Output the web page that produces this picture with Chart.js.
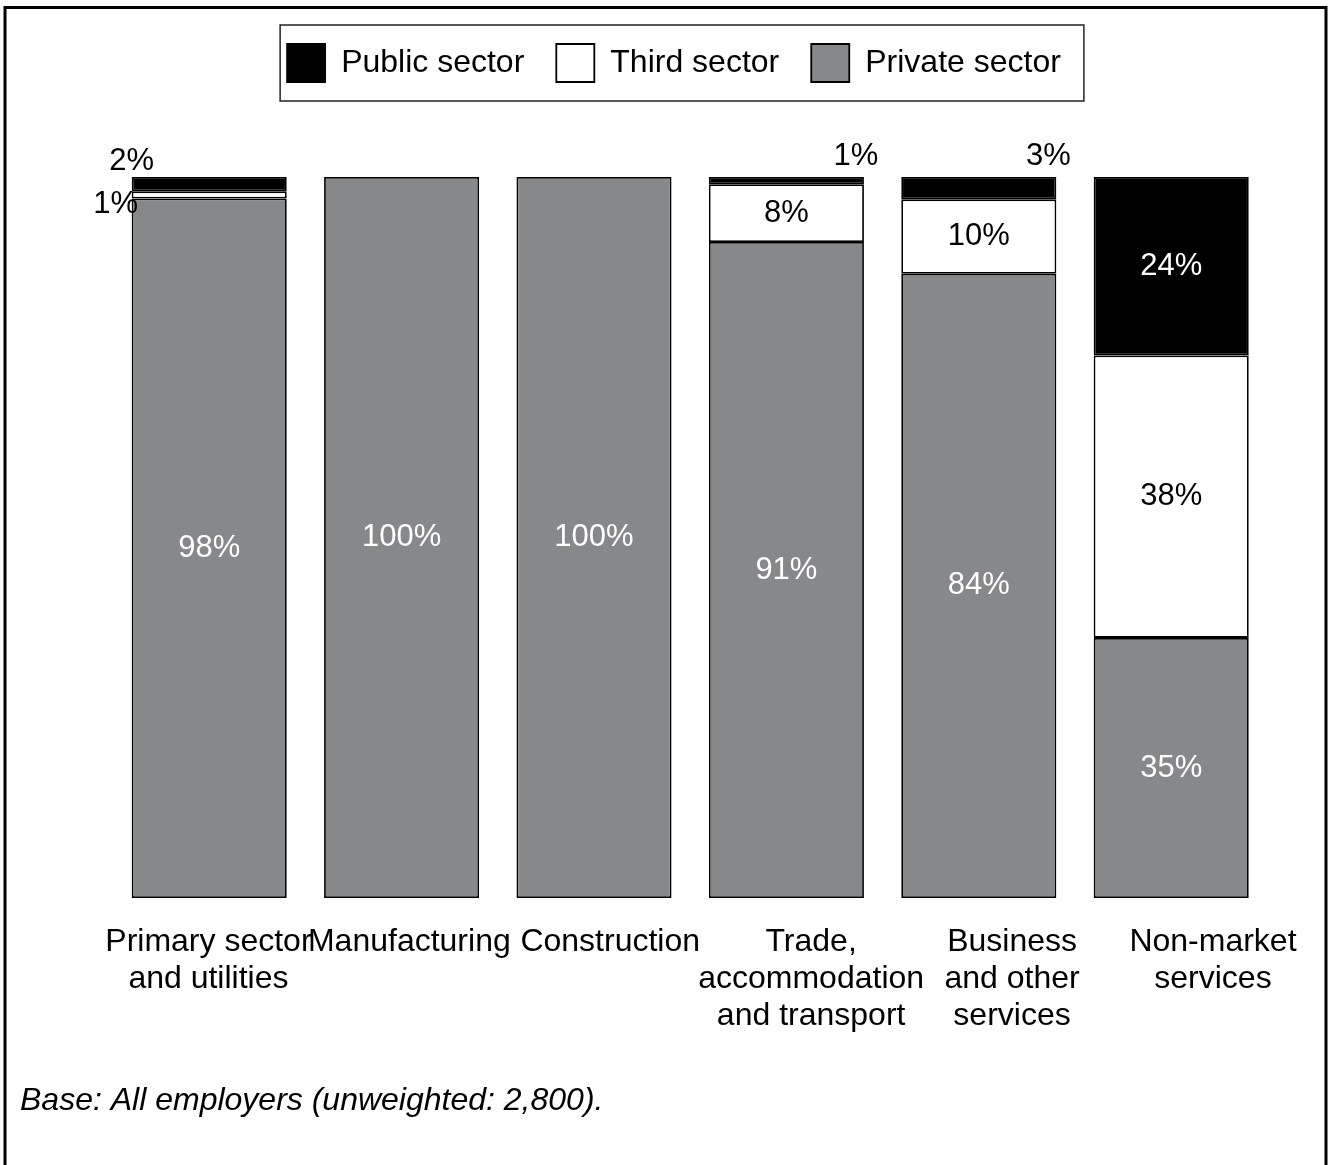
<!DOCTYPE html>
<html>
<head>
<meta charset="utf-8">
<script src="https://cdn.jsdelivr.net/npm/chart.js@4.4.0/dist/chart.umd.min.js"></script>
<style>
  html, body { margin: 0; padding: 0; background: #ffffff; overflow: hidden; }
  #wrap { position: absolute; left: 0; top: 0; width: 1328px; height: 1165px; }
</style>
</head>
<body>
<div id="wrap"><canvas id="chart" width="1328" height="1165"></canvas></div>
<script>
// Employer type by broad sector (% of employers)
const categories = [
  ['Primary sector', 'and utilities'],
  ['Manufacturing'],
  ['Construction'],
  ['Trade,', 'accommodation', 'and transport'],
  ['Business', 'and other', 'services'],
  ['Non-market', 'services']
];
const publicSector  = [2, 0, 0, 1, 3, 24];
const thirdSector   = [1, 0, 0, 8, 10, 38];
const privateSector = [98, 100, 100, 91, 84, 35];
const seriesNames = ['Public sector', 'Third sector', 'Private sector'];
const footnote = 'Base: All employers (unweighted: 2,800).';

const FONT = '"Liberation Sans", Arial, Helvetica, sans-serif';

// Each bar is a 100% stack: shares are scaled by the sum of the rounded percentages
const totals = categories.map((_, i) => publicSector[i] + thirdSector[i] + privateSector[i]);
const share = arr => arr.map((v, i) => v / totals[i] * 100);

// Stacked bottom-to-top: private, third, public
const stackSeries = [
  { name: seriesNames[2], values: privateSector, fill: '#87888a', text: '#ffffff' },
  { name: seriesNames[1], values: thirdSector,   fill: '#ffffff', text: '#000000' },
  { name: seriesNames[0], values: publicSector,  fill: '#000000', text: '#ffffff' }
];

// Category label axis range (linear, so labels can sit a little apart from the bar centres)
const LABEL_AXIS_MIN = -0.475;
const LABEL_AXIS_MAX = 5.271;

// Percentages printed on the bars; thin segments get their label outside the bar
const valueLabels = {
  id: 'valueLabels',
  afterDatasetsDraw(chart) {
    const ctx = chart.ctx;
    ctx.save();
    ctx.font = '31px ' + FONT;
    ctx.textAlign = 'center';
    ctx.textBaseline = 'middle';
    stackSeries.forEach((s, di) => {
      const meta = chart.getDatasetMeta(di);
      meta.data.forEach((bar, i) => {
        const v = s.values[i];
        if (!v) return;
        const left = bar.x - bar.width / 2;
        const right = bar.x + bar.width / 2;
        const top = Math.min(bar.y, bar.base);
        const bottom = Math.max(bar.y, bar.base);
        let x = bar.x, y = (top + bottom) / 2, color = s.text;
        if (v <= 3) {
          color = '#000000';
          if (i === 0) {
            if (s.name === seriesNames[0]) { x = left; y = top - 16; }
            else { x = left - 16; y = (top + bottom) / 2 + 10; }
          } else {
            x = right - 8; y = top - 21;
          }
        }
        ctx.fillStyle = color;
        ctx.fillText(v + '%', x, y);
      });
    });
    ctx.restore();
  }
};

// Outer frame of the figure and the box round the legend
const frames = {
  id: 'frames',
  beforeDraw(chart) {
    const ctx = chart.ctx;
    ctx.save();
    ctx.fillStyle = '#ffffff';
    ctx.fillRect(0, 0, chart.width, chart.height);
    ctx.restore();
  },
  afterDraw(chart) {
    const ctx = chart.ctx;
    ctx.save();
    ctx.strokeStyle = '#000000';
    ctx.lineWidth = 3;
    ctx.strokeRect(5, 7.5, 1321, 1200);
    const hb = chart.legend.legendHitBoxes;
    if (hb && hb.length) {
      const first = hb[0], last = hb[hb.length - 1];
      ctx.lineWidth = 1.5;
      ctx.strokeStyle = '#222222';
      const x0 = first.left - 7, x1 = last.left + last.width + 23;
      const y0 = first.top - 19, y1 = first.top + first.height + 19;
      ctx.strokeRect(x0, y0, x1 - x0, y1 - y0);
    }
    ctx.restore();
  }
};

new Chart(document.getElementById('chart'), {
  type: 'bar',
  data: {
    labels: categories,
    datasets: stackSeries.map(s => ({
      label: s.name,
      data: share(s.values),
      backgroundColor: s.fill,
      borderColor: '#000000',
      borderWidth: 1.8,
      borderSkipped: false,
      barPercentage: 0.806,
      categoryPercentage: 1
    }))
  },
  options: {
    responsive: false,
    animation: false,
    devicePixelRatio: 1,
    layout: { padding: { left: 20, right: 0, top: 12, bottom: 0 } },
    plugins: {
      tooltip: { enabled: false },
      legend: {
        position: 'top',
        align: 'center',
        reverse: true,
        labels: {
          boxWidth: 38,
          boxHeight: 38,
          padding: 32,
          color: '#000000',
          font: { family: FONT, size: 32 }
        }
      },
      subtitle: {
        display: true,
        text: footnote,
        position: 'bottom',
        align: 'start',
        color: '#000000',
        font: { family: FONT, size: 32, style: 'italic', lineHeight: 1.2 },
        padding: { top: 21.6, bottom: 44.8 }
      },
      title: { display: false }
    },
    scales: {
      x: {
        display: false,
        stacked: true
      },
      xl: {
        type: 'linear',
        position: 'bottom',
        offset: false,
        bounds: 'data',
        min: LABEL_AXIS_MIN,
        max: LABEL_AXIS_MAX,
        grid: { display: false, drawTicks: false, offset: false },
        border: { display: false },
        afterBuildTicks(axis) {
          axis.ticks = categories.map((_, i) => ({ value: i }));
          axis.min = LABEL_AXIS_MIN;
          axis.max = LABEL_AXIS_MAX;
        },
        ticks: {
          autoSkip: false,
          maxRotation: 0,
          minRotation: 0,
          padding: 25.4,
          color: '#000000',
          font: { family: FONT, size: 32, lineHeight: 1.16 },
          callback: v => categories[v]
        }
      },
      y: {
        stacked: true,
        min: 0,
        max: 111.8,
        position: 'left',
        grid: { display: false, drawTicks: false },
        border: { display: false },
        ticks: { display: false },
        afterFit(scale) { scale.width = 93; }
      },
      yRight: {
        type: 'linear',
        position: 'right',
        grid: { display: false, drawTicks: false },
        border: { display: false },
        ticks: { display: false },
        afterFit(scale) { scale.width = 60.6; }
      }
    }
  },
  plugins: [frames, valueLabels]
});
</script>
</body>
</html>
